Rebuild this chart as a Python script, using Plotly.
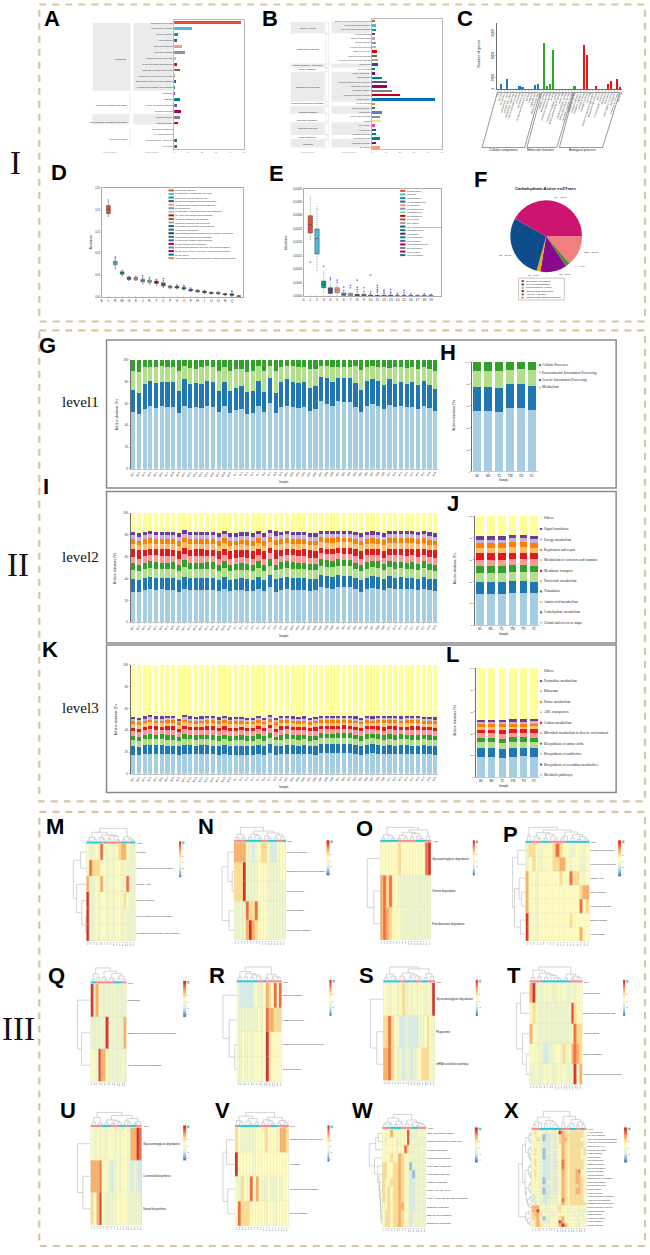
import numpy as np
import plotly.graph_objects as go

W, H = 650, 1255
SANS = "Liberation Sans"
SERIF = "Liberation Serif"
L = 0  # dendrogram leaf

# ---------------- A
A_labels = ["Global and overview maps", "Carbohydrate metabolism", "Energy metabolism", "Lipid metabolism",
            "Nucleotide metabolism", "Amino acid metabolism", "Metabolism of other amino acids",
            "Glycan biosynthesis and metabolism", "Metabolism of cofactors and vitamins",
            "Metabolism of terpenoids and polyketides", "Biosynthesis of other secondary metabolites",
            "Xenobiotics biodegradation and metabolism", "Transcription", "Translation",
            "Folding, sorting and degradation", "Replication and repair", "Membrane transport",
            "Signal transduction", "Transport and catabolism", "Cell growth and death",
            "Cellular community - prokaryotes", "Cell motility"]
A_values = [48, 12.7, 2.8, 2.1, 5.4, 7.5, 1.4, 1.7, 4.2, 0.7, 1.2, 0.5, 0.5, 4.2, 1.7, 4.7, 4.2, 2.4, 0.2, 0.2, 1.9, 1.7]
A_colors = ["#E64B35", "#4DBBD5", "#00A087", "#3C5488", "#F39B7F", "#8491B4", "#91D1C2", "#DC0000", "#7E6148",
            "#B09C85", "#3B4992", "#008B45", "#631879", "#008280", "#5F559B", "#A20056", "#808180", "#BB0021",
            "#0072B5", "#E18727", "#008B45", "#5F559B"]

# ---------------- B
B_labels = ["Neomycin, kanamycin and gentamicin biosynthesis", "Tyrosine and tryptophan biosynthesis",
            "Valine, leucine and isoleucine biosynthesis", "Pyrimidine metabolism", "Pentose phosphate pathway",
            "Galactose metabolism", "Glycolysis / Gluconeogenesis", "Citrate cycle (TCA cycle)",
            "Starch and sucrose metabolism", "Amino sugar and nucleotide sugar metabolism", "Quorum sensing",
            "Purine metabolism", "Oxidative phosphorylation", "Carbon metabolism",
            "Microbial metabolism in diverse environments", "Biosynthesis of amino acids",
            "Biosynthesis of antibiotics", "Biosynthesis of secondary metabolites", "Metabolic pathways",
            "Pyruvate metabolism", "Bacterial secretion system", "ABC transporters", "Aminoacyl-tRNA biosynthesis",
            "Ribosome", "RNA polymerase", "Mismatch repair", "Nucleotide excision repair", "Two-component system",
            "Homologous recombination", "DNA replication"]
B_values = [2.4, 3.1, 3.1, 2.4, 2.4, 3.1, 3.1, 3.5, 3.5, 4.5, 4.2, 2.4, 2.4, 7.1, 10.6, 10.6, 14.6, 20, 45.3, 2.4,
            2.4, 7.5, 5.7, 6.6, 2.4, 2.6, 3.1, 5.9, 3.1, 5.9]
B_colors = ["#E64B35", "#4DBBD5", "#00A087", "#3C5488", "#F39B7F", "#8491B4", "#91D1C2", "#DC0000", "#7E6148",
            "#B09C85", "#3B4992", "#008B45", "#631879", "#008280", "#5F559B", "#A20056", "#808180", "#BB0021",
            "#0072B5", "#E18727", "#20854E", "#7876B1", "#6F99AD", "#FFDC91", "#EE4C97", "#3B4992", "#008B45",
            "#008280", "#631879", "#F39B7F"]

# ---------------- C
C_terms = ["cell", "cell part", "cell junction", "extracellular matrix", "extracellular region",
           "extracellular region part", "macromolecular complex", "membrane", "membrane part",
           "membrane-enclosed lumen", "nucleoid", "organelle", "organelle part", "supramolecular fiber", "virion",
           "catalytic activity", "antioxidant activity", "structural molecule activity", "binding",
           "molecular transducer activity", "nucleic acid binding TF activity", "protein tag",
           "signal transducer activity", "transcription factor activity", "translation regulator activity",
           "transporter activity", "biological adhesion", "biological regulation", "cellular process",
           "metabolic process", "cell killing", "cellular component organization", "developmental process",
           "growth", "immune system process", "localization", "locomotion", "multi-organism process",
           "reproduction", "response to stimulus", "signaling"]
C_values = [300, 8400, 200, 19000, 100, 300, 600, 5400, 4200, 200, 150, 400, 7200, 8400, 100,
            83000, 4800, 9000, 70000, 300, 200, 100, 300, 200, 100, 6000,
            100, 400, 79000, 62000, 100, 300, 4800, 200, 100, 400, 9000, 15000, 200, 18000, 4200]
C_colors = ["#1F78C1"] * 15 + ["#2CA82C"] * 11 + ["#EE1111"] * 15

# ---------------- D
D_ticks = ["S", "L", "R", "M", "G", "K", "J", "E", "T", "C", "P", "V", "O", "F", "H", "I", "U", "D", "N", "Q"]
D_legend = ["[S] Function unknown", "[L] Replication, recombination and repair", "[R] General function prediction only",
            "[M] Cell wall/membrane/envelope biogenesis", "[G] Carbohydrate transport and metabolism",
            "[K] Transcription", "[J] Translation, ribosomal structure and biogenesis",
            "[E] Amino acid transport and metabolism", "[T] Signal transduction mechanisms",
            "[C] Energy production and conversion", "[P] Inorganic ion transport and metabolism",
            "[V] Defense mechanisms", "[O] Posttranslational modification, protein turnover, chaperones",
            "[F] Nucleotide transport and metabolism", "[H] Coenzyme transport and metabolism",
            "[I] Lipid transport and metabolism", "[U] Intracellular trafficking, secretion, and vesicular transport",
            "[D] Cell cycle control, cell division, chromosome partitioning", "[N] Cell motility",
            "[Q] Secondary metabolites biosynthesis, transport and catabolism"]
D_colors = ["#E64B35", "#4DBBD5", "#00A087", "#3C5488", "#F39B7F", "#8491B4", "#91D1C2", "#DC0000", "#7E6148",
            "#B09C85", "#3B4992", "#008B45", "#631879", "#008280", "#5F559B", "#A20056", "#808180", "#BB0021",
            "#0072B5", "#E18727"]
D_q3 = [.2103, .0823, .0579, .0457, .045, .0411, .0389, .0366, .0328, .0251, .0244, .0221, .0175, .0152, .0137, .0107, .0103, .0076, .0076, .003]
D_med = [.2004, .0785, .0556, .0434, .0427, .0381, .0366, .0343, .029, .0236, .0229, .0206, .016, .0137, .0122, .0095, .0091, .0065, .0057, .0023]
D_q1 = [.1913, .0739, .0526, .0404, .0396, .0351, .0335, .0312, .0251, .0213, .0206, .0183, .0145, .0122, .0099, .0084, .0076, .0053, .0038, .0011]
D_hi = [.2233, .0899, .0617, .048, .048, .0457, .0434, .0404, .0381, .0274, .0267, .0251, .0198, .0175, .016, .0122, .0122, .0091, .013, .0038]
D_lo = [.1852, .0648, .048, .0381, .0381, .0305, .0297, .0274, .0213, .0198, .0183, .016, .013, .0107, .0076, .0069, .0061, .0038, .0015, 0]
D_out_x = [2, 5, 6, 7, 8, 9, 11, 12, 13, 19]
D_out_y = [.0915, .0442, .0488, .0442, .0404, .0427, .0274, .0267, .0205, .0135]

# ---------------- E
E_ticks = [str(i) for i in range(20)]
E_legend = ["[1] Bacteroides", "[2] Blautia", "[3] Escherichia", "[4] Faecalibacterium", "[5] Roseburia",
            "[6] Ruminococcus", "[7] Eubacterium", "[8] Lactobacillus", "[9] Prevotella", "[10] Alistipes",
            "[11] Acetobacterium and Dorea group", "[12] Coprococcus", "[13] Dialister",
            "[14] Megamonas", "[15] Collinsella", "[16] Streptococcus-like", "[17] Oscillibacter", "[18] Sutterella",
            "[19] Akkermansia"]
E_q3 = [.0002995, .00025, .0000557, .0000309, .0000309, .0000111, .0000099, .0000062, .0000062, .0000037, .0000025, .0000025, .0000025, .0000012, .0000012, .0000012, .0000012, .0000012, .0000012]
E_med = [.000266, .000214, .0000433, .000021, .0000223, .0000062, .000005, .0000037, .0000037, .0000019, .0000012, .0000012, .0000012, .0000006, .0000006, .0000006, .0000006, .0000006, .0000006]
E_q1 = [.000235, .000157, .0000309, .0000099, .0000124, .0000025, .0000012, .0000012, .0000012, .0000002, .0000002, .0000002, .0000002, .0000001, .0000001, .0000001, .0000001, .0000001, .0000001]
E_hi = [.000374, .000335, .0000953, .000047, .0000433, .0000186, .000016, .000011, .000012, .0000087, .000005, .000005, .000005, .000003, .000003, .000003, .000002, .000003, .000003]
E_lo = [.000204, .000089, .0000124, .0000025, .0000025, 0, 0, 0, 0, 0, 0, 0, 0, 0, 0, 0, 0, 0, 0]
E_out_x = [1, 3, 4, 4, 5, 5, 6, 6, 7, 7, 8, 8, 8, 8, 9, 9, 10, 10, 10, 11, 11, 11, 11, 11, 12, 12, 12, 13, 13, 13, 14, 14, 15, 15, 15, 16, 16, 17, 18, 18, 19, 19]
E_out_y = [.000127, .000111, .000068, .0000606, .0000594, .0000495, .0000334, .000021, .0000408, .0000309, .0000594, .0000334, .0000248, .000016, .0000309, .000016, .000078, .000016, .0000087, .0000396, .0000309, .0000248, .0000186, .0000124, .0000223, .000016, .0000099, .0000248, .0000149, .0000087, .0000099, .000005, .000021, .0000124, .000005, .0000087, .000004, .000004, .0000087, .000004, .0000062, .0000025]

# ---------------- F
F_labels = ["CBM = 13.8%", "AA = 1.9%", "CE = 11.9%", "PL = 1.7%", "GT = 26.7%", "GH = 43.9%"]
F_values = [13.8, 1.9, 11.9, 1.7, 28.8, 41.9]
F_colors = ["#F08080", "#4E8B2A", "#8B0A8B", "#E8A818", "#0F4C8A", "#CC1470"]
F_legend = ["Glycoside Hydrolases", "GlycosylTransferases", "Polysaccharide Lyases", "Carbohydrate Esterases",
            "Auxiliary Activities", "Carbohydrate-Binding Modules"]

# ---------------- G-L
GROUPS = ["BC", "MC", "TL", "TM", "TH", "PC"]
SAMPLES = [f"{g}{i}" for g in GROUPS for i in range(1, 10)]
PAIRED = ["#A6CEE3", "#1F78B4", "#B2DF8A", "#33A02C", "#FB9A99", "#E31A1C", "#FDBF6F", "#FF7F00", "#CAB2D6", "#6A3D9A", "#FFFF99"]
L1_colors = ["#A6CEE3", "#1F78B4", "#B2DF8A", "#33A02C"]
L1_names = ["Metabolism", "Genetic Information Processing", "Environmental Information Processing", "Cellular Processes"]
L1_metab = [52.5, 50.5, 55, 58, 55.5, 57.5, 56.5, 56.5, 51, 58, 56, 56.5, 56, 57.5, 57, 52, 58, 51.5, 54, 54.5, 50.5, 51.5, 58, 52, 60, 51, 56.5, 58, 56.5, 56, 56.5, 53.5, 55, 62, 59.5, 58, 62.5, 61, 61, 57, 52.5, 57.5, 59.5, 57.5, 55, 59, 57, 57.5, 56.5, 57, 55, 58, 55.5, 53]
L1_genet = [20, 19, 23, 23, 23, 22, 23.5, 23, 20, 24, 21.5, 22, 22, 23.5, 23, 19.5, 22, 20, 20.5, 21.5, 20, 20, 23, 18.5, 23.5, 19, 23.5, 24, 23, 22.5, 23, 20.5, 21, 22.5, 23.5, 21.5, 21, 22, 22.5, 22, 20, 23.5, 22.5, 23.5, 21.5, 23.5, 21, 22.5, 21.5, 22.5, 22, 23, 21.5, 20.5]
L1_envir = [17.5, 19, 15, 12.5, 15, 15, 13.5, 14, 18.5, 12, 15, 13.5, 15, 13, 13.5, 18.5, 13.5, 18, 17, 15.5, 18, 18, 13.5, 19, 10.5, 19.5, 13, 12.5, 14.5, 15, 14, 17.5, 16, 9.5, 11, 14, 10, 10.5, 10, 15.5, 18, 12.5, 12, 12.5, 17, 10, 15, 13, 14.5, 13.5, 15, 12.5, 15, 16.5]
L1_cellu = [10, 11.5, 7, 6.5, 6.5, 5.5, 6.5, 6.5, 10.5, 6, 7.5, 8, 7, 6, 6.5, 10, 6.5, 10.5, 8.5, 8.5, 11.5, 10.5, 5.5, 10.5, 6, 10.5, 7, 5.5, 6, 6.5, 6.5, 8.5, 8, 6, 6, 6.5, 6.5, 6.5, 6.5, 5.5, 9.5, 6.5, 6, 6.5, 6.5, 7.5, 7, 7, 7.5, 7, 8, 6.5, 8, 10]
H_series = [[55, 55, 54.5, 58, 58, 56], [22, 22, 22, 21.5, 22, 22], [15, 15, 15.5, 13.5, 13.5, 14.5], [8, 8, 8, 7, 6.5, 7.5]]

L2_names = ["Global and overview maps", "Carbohydrate metabolism", "Amino acid metabolism", "Translation",
            "Nucleotide metabolism", "Membrane transport", "Metabolism of cofactors and vitamins",
            "Replication and repair", "Energy metabolism", "Signal translation", "Others"]
L2_s0 = [28, 27.5, 29.5, 31, 30, 30.5, 30, 30, 27.5, 31, 30, 30, 29.5, 30, 30, 28, 30.5, 28, 29, 29, 27.5, 28, 31, 28, 32, 27.5, 30, 31, 30, 30, 30, 28.5, 29, 33, 31.5, 31, 33, 32.5, 32.5, 30.5, 28, 30.5, 31.5, 31, 29.5, 31, 30.5, 31, 30.5, 30.5, 29.5, 31, 29.5, 28.5]
L2_s1 = [12, 11.5, 11, 11, 11, 10.5, 11, 11, 11, 11, 10.5, 11, 11, 11, 11, 10.5, 11, 10.5, 10.5, 11, 11, 10.5, 11, 10.5, 11, 11, 11, 11, 10.5, 11, 11, 11, 10.5, 11, 11, 11, 10.5, 10.5, 10.5, 10.5, 11, 10.5, 11, 10.5, 10.5, 11, 10.5, 10.5, 10.5, 10.5, 10.5, 10.5, 10.5, 10.5]
L2_s2 = [8, 8, 8, 8.5, 8, 8, 8, 8, 8, 8.5, 8, 8, 8.5, 8, 8, 8, 8.5, 8, 8, 8, 8, 8, 8.5, 8, 8.5, 8, 8, 8.5, 8.5, 8, 8, 8, 8, 8.5, 8.5, 8.5, 8.5, 8.5, 8.5, 8, 8, 8.5, 8.5, 8.5, 8, 8.5, 8.5, 8.5, 8.5, 8.5, 8, 8.5, 8, 8]
L2_s3 = [6, 5.5, 6, 6.5, 6.5, 6, 6, 6.5, 5, 6.5, 6, 6, 6, 6, 6, 5, 6, 5.5, 5.5, 6, 5, 5.5, 6.5, 5.5, 6.5, 5, 6, 6.5, 6.5, 5.5, 6, 5.5, 5.5, 6, 6, 6, 6.5, 6, 6, 6, 5.5, 6, 6, 6, 5.5, 6, 6, 6, 5.5, 6, 6, 6, 6, 5.5]
L2_s4 = [5.5, 5.5, 6, 5.5, 6, 6, 6, 5.5, 5.5, 6, 6, 6, 6, 6, 6, 5.5, 6, 5.5, 5.5, 5.5, 5.5, 5.5, 6, 5.5, 5.5, 5.5, 6, 6, 6, 6, 6, 5.5, 5.5, 5.5, 5.5, 6, 5.5, 5.5, 5.5, 6, 6, 6, 5.5, 5.5, 5.5, 5.5, 6, 6, 6, 6, 6, 6, 6, 6]
L2_s5 = [7.5, 8.5, 6, 5.5, 5.5, 6, 6, 5.5, 8, 5, 6, 6, 6, 5.5, 5.5, 8, 5.5, 7.5, 7, 6.5, 7.5, 7.5, 5.5, 7.5, 4.5, 8, 5.5, 5.5, 5.5, 6, 6, 7, 6.5, 4.5, 5, 5, 4.5, 5, 5, 6, 7.5, 5.5, 5, 5.5, 6.5, 5, 6, 6, 6.5, 6, 7, 5.5, 6.5, 7]
L2_s6 = [5, 4.5, 5.5, 5.5, 5.5, 5.5, 5.5, 5.5, 4.5, 5.5, 5.5, 5.5, 5.5, 5.5, 5.5, 4.5, 5.5, 4.5, 5, 5, 4.5, 4.5, 5.5, 4.5, 5.5, 4.5, 5.5, 5.5, 5.5, 5.5, 5.5, 5, 5, 5.5, 5.5, 5.5, 5.5, 5.5, 5.5, 5.5, 5, 5.5, 5.5, 5.5, 5, 5.5, 5.5, 5.5, 5.5, 5.5, 5, 5.5, 5, 5]
L2_s7 = [4, 3.5, 4.5, 4.5, 4.5, 4.5, 4.5, 4.5, 4, 4.5, 4.5, 4.5, 4.5, 4.5, 4.5, 4, 4.5, 4, 4, 4, 4, 4, 4.5, 4, 4.5, 4, 4.5, 4.5, 4.5, 4.5, 4.5, 4, 4, 4.5, 4.5, 4.5, 4.5, 4.5, 4.5, 4.5, 4, 4.5, 4.5, 4.5, 4.5, 4.5, 4.5, 4.5, 4.5, 4.5, 4.5, 4.5, 4.5, 4]
L2_s8 = [3.5, 3.5, 3.5, 3.5, 3.5, 3.5, 3.5, 3.5, 3.5, 3.5, 3.5, 3.5, 3.5, 3.5, 3.5, 3.5, 3.5, 3.5, 3.5, 3.5, 3.5, 3.5, 3.5, 3.5, 3.5, 3.5, 3.5, 3.5, 3.5, 3.5, 3.5, 3.5, 3.5, 3.5, 3.5, 3.5, 3.5, 3.5, 3.5, 3.5, 3.5, 3.5, 3.5, 3.5, 3.5, 3.5, 3.5, 3.5, 3.5, 3.5, 3.5, 3.5, 3.5, 3.5]
L2_s9 = [3.5, 4, 3, 3, 3, 3, 3, 3, 4, 3, 3, 3, 3, 3, 3, 4, 3, 4, 3.5, 3.5, 4, 4, 3, 4, 3, 4.5, 3, 3, 3, 3, 3, 3.5, 3.5, 2.5, 2.5, 3, 2.5, 2.5, 2.5, 3, 4, 3, 3, 3, 3.5, 3, 3, 3, 3, 3, 3.5, 3, 3.5, 3.5]
L2_s10 = [17, 18, 17, 16.5, 17, 17, 17, 17, 18, 16, 17, 17, 17, 17, 17, 18, 16.5, 18, 18, 17.5, 16.5, 18, 17, 18, 15.5, 16.5, 17, 16.5, 17, 17, 17, 18, 18, 16.5, 16.5, 16.5, 16.5, 16.5, 16.5, 17, 18, 17, 17, 17, 18, 16.5, 16.5, 16.5, 16.5, 16.5, 17, 16.5, 17.5, 18]
J_series = [[29, 29, 28.5, 30, 30, 29.5], [11, 11, 11, 10.5, 10.5, 10.5], [8, 8, 8.5, 8.5, 8.5, 8.5], [6, 6, 6, 6, 6, 6],
            [6, 6, 6, 6, 6, 6], [6, 6, 6, 5.5, 5.5, 5.5], [5, 5, 5, 5.5, 5.5, 5], [4, 4, 4, 4, 4, 4.5],
            [3.5, 3.5, 3.5, 3.5, 3.5, 3.5], [3.5, 3.5, 3.5, 3, 3, 3], [18, 18, 18, 17.5, 17.5, 18]]

L3_names = ["Metabolic pathways", "Biosynthesis of secondary metabolites", "Biosynthesis of antibiotics",
            "Biosynthesis of amino acids", "Microbial metabolism in diverse environment", "Carbon metabolism",
            "ABC transporters", "Purine metabolism", "Ribosome", "Pyrimidine metabolism", "Others"]
L3_s0 = [17, 16.5, 18, 18.5, 18, 18, 18, 18, 16.5, 18.5, 18, 18, 18, 18, 18, 17, 18.5, 17, 17.5, 17.5, 17, 17, 18.5, 17, 19, 17, 18, 18.5, 18, 18, 18, 17.5, 17.5, 19, 19, 19, 19, 19, 19, 18, 17, 18.5, 19, 18.5, 18, 18.5, 18, 18, 18, 18, 18, 18, 18, 17]
L3_s1 = [8, 8, 8, 8.5, 8, 8, 8, 8, 8, 8, 8, 8, 8, 8.5, 8, 8, 8, 8, 7.5, 8, 8, 8, 8, 8, 8, 8, 8, 8, 8, 8, 8, 7.5, 8, 8.5, 8, 8, 8.5, 8.5, 8, 8, 8, 8, 8, 8, 8, 8, 8, 8, 8, 8, 8, 8, 8, 8.5]
L3_s2 = [5.5, 5, 5.5, 5.5, 5.5, 5.5, 5.5, 5.5, 5, 5.5, 5.5, 5.5, 5.5, 5.5, 5.5, 5, 5.5, 5, 5.5, 5.5, 5, 5, 5.5, 5, 5.5, 5, 5.5, 5.5, 5.5, 5.5, 5.5, 5, 5.5, 5.5, 5.5, 5.5, 5.5, 5.5, 5.5, 5.5, 5, 5.5, 5.5, 5.5, 5.5, 5.5, 5.5, 5.5, 5.5, 5.5, 5.5, 5.5, 5.5, 5]
L3_s3 = [4, 4, 4, 4.5, 4, 4.5, 4.5, 4.5, 3.5, 4.5, 4, 4, 4, 4, 4.5, 4, 4, 4, 4, 4, 4, 4, 4.5, 4, 4.5, 3.5, 4, 4.5, 4, 4, 4, 4, 4, 4, 4, 4, 4, 4.5, 4.5, 4, 4, 4.5, 4, 4.5, 4, 4.5, 4.5, 4.5, 4, 4.5, 4, 4, 4, 4]
L3_s4 = [4.5, 4, 4.5, 4.5, 4.5, 4, 4.5, 4.5, 4, 4.5, 4.5, 4.5, 4.5, 4.5, 4.5, 4.5, 4.5, 4.5, 4.5, 4.5, 4.5, 4.5, 4.5, 4.5, 4.5, 4, 4.5, 4.5, 4.5, 4.5, 4.5, 4.5, 4.5, 4, 4, 4, 4, 4, 4, 4.5, 4.5, 4.5, 4, 4, 4, 4.5, 4.5, 4, 4.5, 4.5, 4.5, 4, 4.5, 4.5]
L3_s5 = [3, 3, 3, 3, 3.5, 3, 3, 3, 3, 3.5, 3, 3, 3, 3, 3, 3, 3, 3, 3, 3, 3, 3, 3, 3, 3.5, 3, 3.5, 3, 3, 3, 3, 3, 3, 3, 3, 3, 3, 3, 3, 3, 3, 3, 3, 3, 3.5, 3, 3, 3, 3, 3, 3.5, 3, 3, 3]
L3_s6 = [3.5, 3.5, 3, 3, 2.5, 3, 3, 3, 3.5, 3, 3, 3, 3, 3, 3, 3.5, 3, 3.5, 3.5, 3, 3.5, 3.5, 3, 3.5, 2.5, 3.5, 3, 2.5, 3, 3, 3, 3, 3.5, 2.5, 2.5, 3, 2.5, 2.5, 2.5, 3, 3.5, 3, 2.5, 3, 3.5, 2.5, 3, 3, 3, 3, 3, 3, 3, 3.5]
L3_s7 = [2.5, 2.5, 2.5, 2.5, 2.5, 2.5, 2.5, 2.5, 2.5, 2.5, 2.5, 2.5, 2.5, 2.5, 2.5, 2.5, 2.5, 2.5, 2.5, 2.5, 2.5, 2.5, 2.5, 2.5, 2.5, 2.5, 2.5, 2.5, 2.5, 2.5, 2.5, 2.5, 2.5, 2.5, 2.5, 2.5, 2.5, 2.5, 2.5, 2.5, 2.5, 2.5, 2.5, 2.5, 2.5, 2.5, 2.5, 2.5, 2.5, 2.5, 2.5, 2.5, 2.5, 2.5]
L3_s8 = [1.5, 1.5, 2, 2, 2, 2, 2, 2, 1.5, 2, 2, 2, 2, 2, 2, 1.5, 2, 1.5, 1.5, 2, 1.5, 1.5, 2, 1.5, 2, 2, 2, 2, 2, 2, 2, 1.5, 1.5, 2, 2, 2, 2, 2, 2, 2, 1.5, 2, 2, 2, 2, 2, 2, 2, 2, 2, 2, 2, 2, 1.5]
L3_s9 = [2, 2, 2, 2, 2, 2, 2, 2, 2, 2, 2, 2, 2, 2, 2, 2, 2, 2, 2, 2, 2, 2, 2, 2, 2, 2, 2, 2, 2, 2, 2, 2, 2, 2, 2, 2, 2, 2, 2, 2, 2, 2, 2, 2, 2, 2, 2, 2, 2, 2, 2, 2, 2, 2]
L3_s10 = [47.5, 48, 47, 46.5, 47, 47, 47, 47, 48, 46.5, 47, 47.5, 47, 47, 47, 47.5, 47, 47.5, 47.5, 47, 48, 48, 46.5, 48, 45.5, 47.5, 47, 46.5, 47, 47.5, 47, 48, 47.5, 46.5, 46.5, 46.5, 46.5, 46.5, 46.5, 47, 48, 47, 47, 47, 47, 46.5, 47, 47, 46.5, 47, 47, 47, 47.5, 48]
Lp_series = [[18.5, 18.5, 18, 18.5, 19, 18.5], [8, 8, 8, 8, 8, 8], [5.5, 5.5, 5.5, 5.5, 5.5, 5.5], [4, 4, 4, 4.5, 4, 4.5],
             [4.5, 4.5, 4.5, 4.5, 4.5, 4.5], [3, 3, 3, 3, 3, 3], [3, 3, 3, 2.5, 2.5, 3], [2.5, 2.5, 2.5, 2.5, 2.5, 2.5],
             [2, 2, 2, 2, 2, 2], [2, 2, 2, 2, 2, 2], [47.5, 47.5, 47.5, 47, 47, 47]]

# ---------------- heatmaps (colour level: -3 blue ... 1 pale yellow ... 5 red)
M_rows = ["Proteasome", "Sesquiterpenoid and triterpenoid biosynthesis", "Mitophagy - yeast", "Bisphenol degradation",
          "Polycyclic aromatic hydrocarbon degradation", "Glycosaminoglycan biosynthesis - CS/DS, chondroitin"]
M_z = [[1, 0, 0, 1, 0, 4, 1, 0, 1, 0, 1, 2, 3, 3, 1, 0, 0], [1, 4, 2, 2, 2, 1, 1, 0, 1, 0, 1, 1, 0, 1, 0, 0, 0],
       [3, 0, 0, 1, 0, 3, 1, 0, 1, 0, 1, 1, 0, 1, 4, 0, 0], [5, 0, 0, 1, 0, 1, 1, 0, 1, 0, 1, 1, 0, 2, 1, 0, 0],
       [5, 0, 0, 1, 0, 1, 1, 0, 1, 0, 1, 1, 0, 1, 0, 0, 0], [5, 0, 0, 1, 0, 1, 1, 0, 1, 0, 1, 1, 0, 1, 0, 0, 0]]
M_group = [0, 0, 0, 0, 0, 1, 0, 1, 1, 1, 1, 1, 0, 0, 1, 0, 0]
M_col = [1, [.7, [.3, [.1, L, L], [.15, L, L]], [.5, [.3, L, [.15, L, L]], [.45, [.2, L, L], [.4, L, [.12, L, L]]]]], [.35, [.12, L, L], [.2, L, [.1, L, L]]]]
M_row = [1, [.45, L, L], [.75, L, [.35, L, [.05, L, L]]]]

N_rows = ["Carotenoid biosynthesis", "Sesquiterpenoid and triterpenoid biosynthesis", "Steroid biosynthesis",
          "Toluene degradation", "Fluorobenzoate degradation"]
N_z = [[3, 3, 3, 3, 0, 0, -1, 0, 1, 2, 2, 0, -1, -1, 0, 1, 1], [2, 2, 2, 5, 0, 0, 0, 0, 1, 1, 1, 0, 0, 0, 0, 1, 1],
       [2, 2, 2, 5, 0, 0, 0, 0, 1, 1, 1, 0, 0, 0, 0, 0, 0], [0, 0, 0, 0, 4, 2, 2, 4, 1, 1, 1, 0, 0, 0, 0, 0, 0],
       [0, 0, 0, 0, 3, 5, 3, 2, 1, 1, 1, 0, 0, 0, 0, 0, 0]]
N_group = [1, 1, 1, 1, 0, 0, 0, 0, 0, 1, 1, 0, 0, 0, 1, 1, 0]
N_col = [1, [.45, [.2, L, L], [.15, L, L]], [.7, [.45, [.2, L, L], [.35, L, [.15, L, L]]], [.55, [.3, L, [.12, L, L]], [.4, [.15, L, L], [.25, L, L]]]]]
N_row = [1, [.5, L, [.15, L, L]], [.4, L, L]]

O_rows = ["Glycosaminoglycan degradation", "Toluene degradation", "Fluorobenzoate degradation"]
O_z = [[1, 1, 1, 1, 1, 1, 2, 1, 1, 1, 1, 1, 1, 1, 1, 4, 5], [3, 4, 2, 4, 1, 1, 0, 0, 0, 0, 0, 0, 0, 0, 0, 0, 0],
       [3, 4, 3, 2, 1, 1, 1, 0, 0, 0, 0, 0, 0, 0, 0, 0, 0]]
O_group = [0, 0, 0, 0, 0, 0, 1, 1, 1, 1, 1, 1, 0, 0, 0, 1, 1]
O_col = [1, [.4, [.15, L, L], [.3, L, [.12, L, L]]], [.8, [.6, [.35, [.1, L, L], [.2, L, L]], [.5, [.2, L, L], [.3, L, [.1, L, L]]]], [.3, L, L]]]
O_row = [1, L, [.5, L, L]]

P_rows = ["Glycosaminoglycan degradation", "Flavone and flavonol biosynthesis", "Mitophagy - yeast", "Toluene degradation",
          "Fluorobenzoate degradation", "Bisphenol degradation", "Xylene degradation"]
P_z = [[0, 2, 2, 1, 0, 1, 1, 1, 2, 4, 2, 1, 1, 0, 0, 1, 1, 0, 1], [0, 1, 2, 1, 0, 1, 1, 1, 2, 2, 3, 3, 1, 0, 1, 1, 0, 0, 1],
       [3, 1, 1, 0, 1, 1, 1, 1, 1, 1, 2, 1, 1, 4, 2, 2, 1, 0, 1], [3, 1, 1, 0, 1, 1, 1, 1, 1, 1, 1, 1, 1, 1, 1, 1, 2, 3, 3],
       [3, 1, 1, 0, 1, 1, 1, 1, 1, 1, 1, 1, 1, 1, 1, 1, 4, 1, 2], [5, 1, 1, 0, 1, 1, 1, 1, 1, 1, 1, 1, 1, 2, 1, 1, 1, 1, 1],
       [5, 1, 1, 0, 1, 1, 1, 1, 1, 1, 1, 1, 1, 1, 1, 1, 3, 1, 1]]
P_group = [0, 0, 1, 1, 1, 0, 0, 1, 1, 1, 1, 1, 0, 0, 0, 0, 0, 0, 0]
P_col = [1, [.35, L, L], [.8, [.6, [.3, L, [.15, L, L]], [.5, [.2, L, L], [.35, L, [.15, L, L]]]], [.65, [.3, [.15, L, L], L], [.45, [.2, L, L], [.3, [.1, L, L], [.15, L, L]]]]]]
P_row = [1, [.6, L, L], [.85, [.5, L, [.3, L, L]], [.4, L, L]]]

Q_rows = ["Proteasome", "Sesquiterpenoid and triterpenoid biosynthesis", "Glycosaminoglycan degradation"]
Q_z = [[5, 0, 3, 0, 0, 0, 0, 0, 0, 0, 0, 0, 0, 0], [0, 0, 0, 0, 0, 0, 5, 0, 0, 0, 0, 0, 0, 3],
       [1, 1, 0, 5, 3, 3, 1, 0, 0, 0, 0, 0, 1, 0]]
Q_group = [0, 0, 1, 1, 1, 1, 1, 1, 1, 0, 0, 0, 1, 1]
Q_col = [1, [.55, [.15, L, L], [.3, L, L]], [.75, [.3, L, [.1, L, L]], [.6, [.25, L, [.1, L, L]], [.4, [.2, L, L], [.15, L, L]]]]]
Q_row = [1, L, [.7, L, L]]

R_rows = ["Benzoate degradation", "Carotenoid biosynthesis", "Sesquiterpenoid and triterpenoid biosynthesis", "Steroid biosynthesis"]
R_z = [[0, -1, -1, -1, -1, -1, 0, 1, 0, 0, 1, 3, 2, 1, 4, 1, 4], [0, 0, 0, 0, 0, 0, 0, 0, 1, 0, 1, 4, 3, 3, 2, 2, 2],
       [0, 0, 1, 0, 1, 0, 1, 1, 1, 0, 1, 5, 2, 1, 1, 1, 1], [0, 0, 1, 0, 1, 0, 1, 1, 1, 0, 1, 5, 2, 1, 1, 1, 1]]
R_group = [0, 0, 0, 0, 0, 0, 0, 0, 1, 1, 0, 1, 1, 1, 1, 1, 1]
R_col = [1, [.65, [.2, L, L], [.5, [.25, L, L], [.4, [.2, L, L], [.3, L, [.1, L, L]]]]], [.45, [.15, L, L], [.3, [.1, L, L], [.2, L, L]]]]
R_row = [1, L, [.55, L, [.15, L, L]]]

S_rows = ["Glycosaminoglycan degradation", "Phagosome", "mRNA surveillance pathway"]
S_z = [[1, 1, 0, 1, 1, 0, 1, 2, 0, 1, 0, 1, 0, 1, 1, 0, 1, 0, 5], [2, 2, 4, 2, 1, 1, -1, -1, 0, -1, -1, -1, -1, 0, 0, 1, 2, 1, 0],
       [3, 3, 4, 2, 1, 0, 0, -1, 0, 0, -1, 0, 0, 1, 2, 2, 2, 1, 0]]
S_group = [0, 0, 0, 0, 0, 0, 1, 1, 0, 0, 1, 0, 1, 1, 0, 0, 1, 1, 1]
S_col = [1, [.45, [.2, L, L], [.3, L, [.1, L, L]]], [.85, [.55, [.3, L, [.1, L, L]], [.4, [.2, L, L], [.3, L, [.15, L, L]]]], [.5, [.2, L, L], [.3, L, L]]]]
S_row = [1, L, [.5, L, L]]

T_rows = ["Steroid biosynthesis", "Biosynthesis of unsaturated fatty acids", "Cutin biosynthesis", "Bisphenol degradation",
          "Sesquiterpenoid and triterpenoid biosynthesis"]
T_z = [[3, 5, 1, 0, 0, 1, 0, 1, 0, 0, 1, 0, 1, 0, 0, 1, 0, 1, 1], [1, 2, 1, 0, 0, 0, 0, 0, 0, 0, 0, 0, 0, 0, 0, 5, 2, 1, 1],
       [3, 1, 1, 0, 0, 0, 0, 0, 0, 0, 0, 0, 0, 0, 0, 1, 4, 2, 2], [1, 1, 1, 0, 0, -1, -1, 0, 0, 1, 1, 0, 2, 0, 1, 3, 4, 3, 2],
       [0, 0, 1, 0, 0, 1, 0, 1, 0, 0, 1, 0, 1, 0, 0, 1, 5, 1, 3]]
T_group = [1, 1, 1, 1, 0, 0, 0, 0, 0, 0, 0, 0, 0, 0, 1, 1, 1, 1, 1]
T_col = [1, [.75, [.2, L, L], [.55, [.25, L, L], [.45, [.2, L, L], [.35, L, [.2, L, [.1, L, L]]]]]], [.45, [.15, L, L], [.3, [.12, L, L], [.2, L, L]]]]
T_row = [1, [.7, L, L], [.55, L, [.25, L, L]]]

U_rows = ["Glycosaminoglycan degradation", "Carotenoid biosynthesis", "Steroid biosynthesis"]
U_z = [[1, 0, 1, 0, 1, 0, 1, 1, 0, 1, 0, 1, 1, 0, 3, 3, 5, 4], [3, 3, 3, 4, 1, 1, 0, -1, 0, 1, 0, 1, 1, 0, -1, 0, -1, -1],
       [2, 1, 3, 5, 1, 0, 0, 0, 0, 1, 1, 1, 1, 0, 0, 0, 0, 0]]
U_group = [1, 1, 1, 1, 0, 0, 0, 1, 1, 1, 0, 0, 1, 1, 0, 0, 1, 1]
U_col = [1, [.6, [.2, L, L], [.15, L, L]], [.75, [.4, [.15, L, L], [.3, [.1, L, L], [.2, L, L]]], [.5, [.3, L, [.15, L, L]], [.25, [.1, L, L], L]]]]
U_row = [1, L, [.6, L, L]]

V_rows = ["Phosphatidylinositol signaling system", "Proteasome", "Glycosaminoglycan degradation", "Steroid degradation"]
V_z = [[2, 1, 0, 0, 0, 0, 0, 1, 1, 1, 2, 1, 1, 1, 0, 3, 3, 2], [5, 1, 1, 1, 1, 1, 0, 1, 1, 1, 1, 1, 1, 1, 1, 1, 1, 1],
       [1, 0, 2, 1, 0, 4, 1, 3, 1, 0, 0, 1, 0, 0, 1, 0, 1, 1], [1, 4, 2, 2, 2, 1, 1, 1, 1, 1, 0, 1, 1, 0, 1, 1, 1, 1]]
V_group = [1, 0, 0, 0, 0, 0, 0, 0, 1, 1, 1, 1, 0, 0, 1, 1, 1, 1]
V_col = [1, [.7, [.35, L, [.2, L, L]], [.5, [.3, L, [.1, L, L]], [.2, L, L]]], [.6, [.4, [.15, L, L], [.3, L, [.1, L, L]]], [.35, [.15, L, L], [.2, L, L]]]]
V_row = [1, [.7, L, L], [.6, L, L]]

W_rows = ["mRNA surveillance pathway", "Ribosome biogenesis in eukaryotes", "Geraniol degradation", "Carotenoid biosynthesis",
          "beta-Alanine metabolism", "Tryptophan metabolism", "Histidine metabolism", "Citrate cycle (TCA cycle)",
          "Valine, leucine and isoleucine degradation", "Butanoate metabolism", "Other glycan degradation",
          "Sphingolipid metabolism"]
W_z = [[1, 1, 1, 3, 1, 1, 1, 1, 1, 5, 0, 0, 0, 1, 0, 1], [1, 0, 1, 1, 1, 0, 0, 1, 1, 5, 0, 0, 0, 0, 0, 0],
       [1, 1, 1, 1, 1, 0, 1, 1, 4, 2, 0, 0, 0, 0, 1, 0], [1, 1, 1, 2, 1, 1, 3, 2, 1, 1, 0, 0, 0, 0, 0, 0],
       [2, 2, 1, 1, 2, 2, 3, 2, 1, 1, -2, 0, 0, 0, 0, 0], [2, 2, 1, 1, 2, 2, 3, 2, 1, 1, -1, -2, 0, 0, 0, 0],
       [2, 1, 1, 2, 2, 2, 3, 2, 1, 1, -1, -1, 0, 0, 0, 0], [2, 1, 2, 1, 2, 2, 3, 2, 1, 1, -1, -1, 0, 0, 0, 0],
       [2, 1, 2, 1, 2, 2, 3, 2, 1, 1, -1, -1, 0, 0, 0, 0], [1, 1, 2, 1, 2, 2, 3, 3, 1, 1, -1, -1, 0, 0, 0, 0],
       [1, 2, 2, 1, 2, 2, 3, 2, 1, 1, -1, 0, 0, 0, 0, 0], [1, 2, 2, 1, 2, 2, 3, 2, 1, 1, -1, 0, 0, 0, 0, 0]]
W_group = [1, 1, 1, 0, 0, 0, 0, 1, 1, 1, 1, 0, 0, 1, 1, 1]
W_col = [1, [.7, [.35, [.2, L, L], [.25, L, L]], [.45, [.2, L, L], [.3, L, L]]], [.55, [.25, L, L], [.35, [.15, L, L], [.25, [.1, L, L], [.15, L, L]]]]]
W_row = [1, [.5, [.3, L, L], L], [.6, L, [.35, L, [.25, L, [.2, L, [.15, L, [.12, L, [.1, L, [.08, L, L]]]]]]]]]

X_rows = ["D-Alanine metabolism", "beta-Alanine metabolism", "Valine, leucine and isoleucine degradation",
          "Glycine, serine and threonine metabolism", "Citrate cycle (TCA cycle)", "Monobactam biosynthesis",
          "Histidine metabolism", "Purine metabolism", "Fatty acid biosynthesis", "Sphingolipid metabolism",
          "Other glycan degradation", "Butanoate metabolism", "Vitamin B6 metabolism", "Pantothenate and CoA biosynthesis",
          "Carbon fixation pathways", "One carbon pool by folate", "Metabolic pathways", "Pyruvate metabolism",
          "Cysteine and methionine metabolism", "Arginine and proline metabolism", "Phosphatidylinositol signaling system",
          "Ribosome biogenesis in eukaryotes", "Carotenoid biosynthesis", "Steroid biosynthesis",
          "Ubiquinone biosynthesis", "Geraniol degradation", "Galactose metabolism"]
X_z = [[1, 2, 1, 1, 0, -1, 0, 0, 0, 1, 5, 3, 2, 1, 2, 2, 2, 2, 2, 1], [1, 1, 1, 0, -2, -1, -1, 0, -1, 1, 2, 3, 2, 1, 2, 2, 2, 2, 2, 1],
       [1, 1, 2, 0, -2, -1, -1, 0, -1, 1, 2, 3, 3, 1, 2, 2, 2, 2, 1, 1], [1, 1, 1, 0, -1, -1, -1, 0, 0, 1, 2, 3, 2, 1, 2, 2, 2, 2, 2, 1],
       [1, 1, 1, 0, -1, -1, -1, 0, -1, 0, 1, 3, 2, 1, 2, 2, 2, 2, 2, 1], [1, 2, 1, 0, -2, -1, -1, 0, 0, 1, 1, 3, 2, 1, 2, 2, 2, 2, 1, 2],
       [1, 2, 1, 0, -2, -1, 0, 0, -1, 1, 1, 3, 2, 1, 2, 2, 2, 2, 1, 2], [1, 1, 1, 0, -2, -1, -1, 0, -1, 1, 1, 3, 2, 1, 2, 2, 2, 2, 1, 1],
       [1, 2, 1, 0, -1, -1, -1, 0, -1, 0, 1, 4, 2, 1, 2, 2, 2, 2, 2, 1], [1, 2, 1, 0, -1, -1, -1, 0, -1, 0, 1, 4, 2, 1, 2, 2, 2, 2, 2, 1],
       [1, 1, 1, 0, -1, -1, -1, 0, -1, 0, 1, 4, 2, 1, 2, 2, 2, 2, 2, 1], [1, 2, 1, 0, -1, -1, -1, 0, -1, 0, 1, 3, 2, 1, 2, 2, 3, 4, 1, 1],
       [1, 2, 1, 0, -1, -1, -1, 0, 0, 0, 1, 3, 2, 1, 2, 2, 3, 3, 1, 1], [1, 1, 1, 0, -2, -1, -1, 0, -1, 0, 1, 3, 2, 1, 2, 2, 3, 3, 2, 1],
       [1, 1, 1, 0, -2, -1, 0, 0, -1, 0, 1, 3, 2, 1, 2, 2, 3, 3, 2, 1], [1, 1, 1, 0, -1, -1, -1, 0, -1, 0, 1, 3, 2, 1, 2, 2, 2, 3, 2, 1],
       [1, 1, 1, 0, -2, -1, -1, 0, -1, 0, 1, 3, 2, 1, 2, 2, 3, 3, 2, 1], [1, 1, 1, 0, -2, -1, -1, 0, -1, 0, 1, 3, 2, 1, 2, 2, 3, 3, 2, 1],
       [-1, 0, 1, 0, -1, -1, -1, 0, 0, 0, 1, 3, 2, 1, 2, 2, 2, 2, 2, 1], [-1, 0, 1, 0, -1, -1, 0, 0, 0, 0, 1, 4, 2, 1, 2, 2, 2, 2, 2, 1],
       [1, -1, 1, 0, 0, -1, 0, 0, 0, 0, 1, 3, 2, 1, 2, 2, 2, 2, 2, 2], [3, 3, 3, 1, 1, 0, 0, 1, 1, 0, 2, 1, 1, 0, 0, 1, 1, 0, 1, 1],
       [3, 3, 5, 1, 0, 0, 0, 0, 1, 0, 2, 1, 1, 0, 1, 1, 0, 0, 0, 0], [2, 3, 3, 2, 1, 1, 0, 0, 0, 1, 1, 1, 1, 0, 1, 0, 1, 0, 0, 1],
       [2, 2, 3, 1, -2, 0, 0, 1, 1, 1, 2, 3, 1, 0, 1, 1, 0, 1, 1, 0], [1, 2, 3, 1, 0, -1, 0, 1, 1, 1, 5, 3, 1, 1, 1, 1, 1, 0, 1, 1],
       [1, 2, 3, 2, 1, 1, 0, 1, 1, 0, 3, 5, 3, 1, 1, 1, 0, 0, 1, 1]]
X_group = [1, 1, 1, 0, 0, 0, 0, 0, 0, 0, 0, 1, 1, 1, 0, 0, 1, 1, 0, 1]
X_col = [1, [.65, [.35, [.2, L, L], [.25, L, L]], [.45, [.25, L, L], [.35, L, [.2, L, [.1, L, L]]]]], [.7, [.3, L, L], [.5, [.25, [.1, L, L], L], [.35, [.15, L, L], [.2, L, L]]]]]
X_row = [1, [.7, [.45, [.2, [.1, L, L], [.12, L, L]], [.25, [.1, L, L], [.15, L, [.08, L, L]]]], [.5, [.25, [.1, L, L], [.12, L, [.06, L, L]]], [.4, [.2, [.08, L, L], [.1, L, L]], [.3, [.12, L, L], [.2, L, L]]]]], [.45, [.2, L, L], [.3, L, [.15, L, L]]]]

HEAT_SCALE_STOPS = ["#3B74B5", "#8FBEDC", "#D6ECE8", "#EEF6CC", "#FFFCC0", "#FEDD90", "#F9AE64", "#EF6C40", "#D62F27"]
HEAT_SCALE = [[i / 8, c] for i, c in enumerate(HEAT_SCALE_STOPS)]
BAR_LEVELS = [5, 4.5, 4, 3.5, 3, 2.5, 2, 1.5, 1, .5, 0, -.5, -1, -1.5, -2, -2.5, -3]

# ======================= build helpers
fig = go.Figure()
layout = dict(width=W, height=H, margin=dict(l=0, r=0, t=0, b=0, pad=0), paper_bgcolor="white", plot_bgcolor="rgba(0,0,0,0)",
              showlegend=False, barmode="stack", boxmode="overlay", font=dict(family=SANS, size=3, color="#222"),
              xaxis=dict(range=[0, W], domain=[0, 1], visible=False, fixedrange=True),
              yaxis=dict(range=[H, 0], domain=[0, 1], visible=False, fixedrange=True))
shapes, annots = [], []
axn = [1]


def txt(x, y, s, size=3, anchor="left", color="#222", family=SANS, angle=0, bold=False, v="middle"):
    annots.append(dict(x=x, y=y, xref="x", yref="y", text=f"<b>{s}</b>" if bold else s, showarrow=False, xanchor=anchor,
                       yanchor=v, textangle=angle, font=dict(size=size, color=color, family=family), borderpad=0, borderwidth=0))


def rect(x0, y0, x1, y1, fill=None, line=None, lw=0.5, layer="below", dash=None):
    shapes.append(dict(type="rect", xref="x", yref="y", x0=x0, y0=y0, x1=x1, y1=y1, layer=layer,
                       fillcolor=fill or "rgba(0,0,0,0)", line=dict(color=line or "rgba(0,0,0,0)", width=lw if line else 0, dash=dash)))


def seg(x0, y0, x1, y1, color="#888", lw=0.5):
    shapes.append(dict(type="line", xref="x", yref="y", x0=x0, y0=y0, x1=x1, y1=y1, layer="above", line=dict(color=color, width=lw)))


def axes(x0, y0, x1, y1, xa=None, ya=None):
    axn[0] += 1
    n = axn[0]
    xd = dict(domain=[x0 / W, x1 / W], anchor=f"y{n}", fixedrange=True, zeroline=False, showgrid=False)
    yd = dict(domain=[1 - y1 / H, 1 - y0 / H], anchor=f"x{n}", fixedrange=True, zeroline=False, showgrid=False)
    xd.update(xa or {})
    yd.update(ya or {})
    layout[f"xaxis{n}"] = xd
    layout[f"yaxis{n}"] = yd
    return f"x{n}", f"y{n}"


def dendro_pts(t):
    xs, ys = [], []
    cnt = [0]

    def walk(node):
        if not isinstance(node, list):
            cnt[0] += 1
            return cnt[0] - .5, 0.0
        a, ha = walk(node[1])
        b, hb = walk(node[2])
        xs.extend([a, a, b, b, None])
        ys.extend([ha, node[0], node[0], hb, None])
        return (a + b) / 2, node[0]
    walk(t)
    return xs, ys, cnt[0]


def dendro_top(t, x0, x1, y0, y1):
    xs, ys, n = dendro_pts(t)
    fig.add_trace(go.Scatter(x=[None if v is None else x0 + v / n * (x1 - x0) for v in xs],
                             y=[None if v is None else y1 - v * (y1 - y0) for v in ys], mode="lines",
                             line=dict(color="#AAAAAA", width=0.5), hoverinfo="skip"))


def dendro_left(t, x0, x1, y0, y1):
    xs, ys, n = dendro_pts(t)
    fig.add_trace(go.Scatter(y=[None if v is None else y0 + v / n * (y1 - y0) for v in xs],
                             x=[None if v is None else x1 - v * (x1 - x0) for v in ys], mode="lines",
                             line=dict(color="#AAAAAA", width=0.5), hoverinfo="skip"))


def heat_panel(z, rows, group, col_t, row_t, rect_px, dtop, dleft, cbar, fs=2.8):
    x0, y0, x1, y1 = rect_px
    nc = len(z[0])
    cols = [f"S{i + 1}" for i in range(nc)]
    rect(x0, y0, x1, y1, fill="#DAD9C8")
    xa, ya = axes(x0, y0, x1, y1,
                  dict(type="category", tickmode="array", tickvals=cols, ticktext=cols, tickangle=90, tickfont=dict(size=2.2, color="#444"), ticks="", showline=False),
                  dict(type="category", tickmode="array", tickvals=rows, ticktext=rows, side="right", autorange="reversed", tickfont=dict(size=fs, color="#222"), ticks="", showline=False))
    fig.add_trace(go.Heatmap(z=z, x=cols, y=rows, xaxis=xa, yaxis=ya, colorscale=HEAT_SCALE, zmin=-3, zmax=5, showscale=False,
                             xgap=0.3, ygap=0.3, hoverinfo="skip"))
    dx = (x1 - x0) / nc
    fig.add_trace(go.Heatmap(z=[group], x0=x0 + dx / 2, dx=dx, y0=y0 - 1.3, dy=2.4, colorscale=[[0, "#22CBD8"], [1, "#F58A8A"]],
                             zmin=0, zmax=1, showscale=False, hoverinfo="skip"))
    txt(x1 + 1.5, y0 - 1.3, "Group", 1.8)
    dendro_top(col_t, x0, x1, dtop, y0 - 2.6)
    dendro_left(row_t, dleft, x0, y0, y1)
    cx0, cy0, cx1, cy1 = cbar
    cb = [[v] for v in BAR_LEVELS]
    dy = (cy1 - cy0) / len(cb)
    fig.add_trace(go.Heatmap(z=cb, x0=(cx0 + cx1) / 2, dx=cx1 - cx0, y0=cy0 + dy / 2, dy=dy, colorscale=HEAT_SCALE, zmin=-3, zmax=5,
                             showscale=False, zsmooth="best", hoverinfo="skip"))
    for frac, lab in zip([.2, .4, .58, .75, .93], ["4", "2", "0", "-2", "-4"]):
        txt(cx1 + 1, cy0 + frac * (cy1 - cy0), lab, 1.8)
    rect(cx1 + 1, cy0 + .3, cx1 + 3.3, cy0 + 1.6, fill="#22CBD8")
    rect(cx1 + 1, cy0 + 1.6, cx1 + 3.3, cy0 + 2.9, fill="#F58A8A")


def stacked(series, colors, cats, rect_px, names, fs=3, angle=None, bw=0.75, tick=3.1):
    x0, y0, x1, y1 = rect_px
    xa, ya = axes(x0, y0, x1, y1,
                  dict(type="category", tickmode="array", tickvals=cats, ticktext=cats, tickangle=angle if angle is not None else 0,
                       tickfont=dict(size=fs, family=SERIF, color="#222"), ticks="outside", ticklen=0.8, tickwidth=0.3, tickcolor="#555", showline=True, linecolor="#777", linewidth=0.4),
                  dict(range=[0, 100], tickvals=[0, 20, 40, 60, 80, 100], ticksuffix="%", tickfont=dict(size=tick, family=SERIF, color="#222"),
                       ticks="outside", ticklen=1.2, tickwidth=0.4, tickcolor="#333", showline=True, linecolor="#333", linewidth=0.7))
    totals = np.sum(np.array(series, dtype=float), axis=0)
    for s, c, nm in zip(series, colors, names):
        fig.add_trace(go.Bar(x=cats, y=np.array(s, dtype=float) / totals * 100, marker=dict(color=c, line=dict(width=0)), width=bw, name=nm, xaxis=xa, yaxis=ya, hoverinfo="skip"))
    return xa, ya


def box_panel(q1, med, q3, lo, hi, pos, colors, rect_px, xr, ticks, tickvals, yr, ytv, ytt, out_x, out_y, wd, dashed=False):
    x0, y0, x1, y1 = rect_px
    xa, ya = axes(x0, y0, x1, y1,
                  dict(range=xr, tickmode="array", tickvals=tickvals, ticktext=ticks, tickfont=dict(size=3.6, color="#333"), ticks="inside", ticklen=0.8, tickwidth=0.3, tickcolor="#777", showline=True, mirror=True, linecolor="#999999", linewidth=0.8),
                  dict(range=yr, tickmode="array", tickvals=ytv, ticktext=ytt, tickfont=dict(size=2.6, color="#333"), ticks="inside", ticklen=0.8, tickwidth=0.3, tickcolor="#777", showline=True, mirror=True, linecolor="#999999", linewidth=0.8))
    for i, p in enumerate(pos):
        if dashed:
            fig.add_trace(go.Scatter(x=[p, p, None, p, p], y=[q3[i], hi[i], None, q1[i], lo[i]], mode="lines",
                                     line=dict(color="#333333", width=0.45, dash="1px,1px"), xaxis=xa, yaxis=ya, hoverinfo="skip"))
            fig.add_trace(go.Box(x=[p], q1=[q1[i]], median=[med[i]], q3=[q3[i]], lowerfence=[q1[i]], upperfence=[q3[i]], width=wd, whiskerwidth=0,
                                 fillcolor=colors[i], line=dict(color="#2A2A2A", width=0.4), xaxis=xa, yaxis=ya, hoverinfo="skip", boxpoints=False))
        else:
            fig.add_trace(go.Box(x=[p], q1=[q1[i]], median=[med[i]], q3=[q3[i]], lowerfence=[lo[i]], upperfence=[hi[i]], width=wd, whiskerwidth=0.4,
                                 fillcolor=colors[i], line=dict(color="#2A2A2A", width=0.4), xaxis=xa, yaxis=ya, hoverinfo="skip", boxpoints=False))
    fig.add_trace(go.Scatter(x=out_x, y=out_y, mode="markers", marker=dict(symbol="cross", size=1.6, color="#6A6AF0"), xaxis=xa, yaxis=ya, hoverinfo="skip"))


# ======================= canvas placeholder (first axes so everything is above it)
fig.add_trace(go.Scatter(x=[0], y=[0], mode="markers", marker=dict(size=1, color="rgba(0,0,0,0)"), hoverinfo="skip"))

# frames
TAN = "#D8C6A2"
for y0, y1 in [(2.5, 320.5), (329.5, 802), (812.5, 1248)]:
    rect(38.5, y0, 647, y1, line=TAN, lw=2.2, dash="7px,6px", layer="above")
for y0, y1 in [(339, 487.5), (491, 643), (645, 793)]:
    rect(106, y0, 618, y1, fill="white", line="#8A8A8A", lw=1.5)

# big letters
for s, x, y in [("A", 51, 17), ("B", 270, 17), ("C", 466, 17), ("D", 58, 171), ("E", 277, 172), ("F", 482, 178),
                ("G", 47, 345), ("H", 449, 352), ("I", 45, 486), ("J", 454, 503), ("K", 49, 650), ("L", 454, 655),
                ("M", 54, 827), ("N", 206, 827), ("O", 365, 829), ("P", 512, 835), ("Q", 56, 977), ("R", 217, 977),
                ("S", 367, 977), ("T", 515, 977), ("U", 67, 1112), ("V", 223, 1112), ("W", 363, 1112), ("X", 513, 1112)]:
    txt(x, y, s, 22, "center", "#000", SANS, bold=True)
for s, x, y in [("I", 15, 162), ("II", 17, 565), ("III", 18, 1030)]:
    txt(x, y, s, 33, "center", "#111", SERIF)
for s, y in [("level1", 401), ("level2", 557), ("level3", 708)]:
    txt(80, y, s, 15, "center", "#111", SERIF)

# ---------- A
GREY = "#EBEBEB"
for xx0, xx1 in [(92, 129), (133, 172)]:
    rect(xx0, 21, xx1, 89, fill=GREY)
    rect(xx0, 112, xx1, 123, fill=GREY)
for s, x, y in [("Metabolism", 120, 57), ("Genetic Information Processing", 111, 103),
                ("Environmental Information Processing", 108, 120), ("Cellular Processes", 118, 137)]:
    txt(x, y, s, 2.2, "center")
for y0, y1 in [(22, 89), (92, 109), (126, 144)]:
    seg(129.5, y0, 129.5, y1, "#BBBBBB", 0.4)
txt(110, 150, "KEGG pathway", 2, "center", "#999")
txt(152, 150, "KEGG pathway", 2, "center", "#999")
xa, ya = axes(174, 18, 244, 148,
              dict(range=[0, 50], tickvals=[0, 10, 20, 30, 40, 50], tickfont=dict(size=2, color="#777"), showline=True, mirror=True, linecolor="#AAAAAA", linewidth=0.8),
              dict(type="category", autorange="reversed", tickmode="array", tickvals=A_labels, ticktext=A_labels, tickfont=dict(size=1.9, color="#333"), showline=True, mirror=True, linecolor="#AAAAAA", linewidth=0.8))
fig.add_trace(go.Bar(x=A_values, y=A_labels, orientation="h", width=0.5, marker=dict(color=A_colors, line=dict(width=0)), xaxis=xa, yaxis=ya, hoverinfo="skip"))

# ---------- B
for xx0, xx1 in [(291, 325), (332, 370)]:
    for y0, y1 in [(60, 95), (185, 198), (210, 300), (312, 336), (362, 400), (412, 438)]:
        rect(xx0, y0 / 3, xx1, y1 / 3, fill=GREY)
for y0, y1 in [(60, 95), (95, 185), (185, 198), (198, 210), (210, 300), (300, 312), (312, 336), (336, 362), (362, 400), (400, 412), (412, 438)]:
    rect(326, y0 / 3 + .3, 329, y1 / 3 - .3, line="#C8C8C8", lw=0.3)
for s, y in [("Cancer: overview", 77), ("Cardiovascular diseases", 140), ("Cellular community - prokaryotes", 190), ("Energy metabolism", 203),
             ("Global and overview maps", 255), ("Glycan biosynthesis and metabolism", 305), ("Membrane transport", 330),
             ("Nucleotide metabolism", 355), ("Replication and repair", 380), ("Signal transduction", 405), ("Translation", 428)]:
    txt(308, y / 3, s, 2, "center")
txt(308, 150, "KEGG pathway", 2, "center", "#999")
txt(350, 150, "KEGG pathway", 2, "center", "#999")
xa, ya = axes(372.7, 17, 443, 148,
              dict(range=[0, 50], tickvals=[0, 10, 20, 30, 40, 50], tickfont=dict(size=2, color="#777"), showline=True, mirror=True, linecolor="#AAAAAA", linewidth=0.8),
              dict(type="category", autorange="reversed", tickmode="array", tickvals=B_labels, ticktext=B_labels, tickfont=dict(size=1.6, color="#333"), showline=True, mirror=True, linecolor="#AAAAAA", linewidth=0.8))
fig.add_trace(go.Bar(x=B_values, y=B_labels, orientation="h", width=0.55, marker=dict(color=B_colors, line=dict(width=0)), xaxis=xa, yaxis=ya, hoverinfo="skip"))

# ---------- C
xa, ya = axes(497.8, 20.7, 623.8, 87.3,
              dict(type="category", tickmode="array", tickvals=C_terms, ticktext=C_terms, tickangle=-72, tickfont=dict(size=2.5, color="#333"), ticks="outside", ticklen=1, tickwidth=0.3, showline=True, linecolor="#333", linewidth=0.7),
              dict(range=[0, 120000], tickvals=[0, 20000, 60000, 100000], ticktext=["0", "20000", "60000", "100000"], tickangle=-90, tickfont=dict(size=2.6, color="#333"), ticks="outside", ticklen=1, tickwidth=0.3, showline=True, linecolor="#333", linewidth=0.7))
fig.add_trace(go.Bar(x=C_terms, y=C_values, width=0.72, marker=dict(color=C_colors, line=dict(width=0)), xaxis=xa, yaxis=ya, hoverinfo="skip"))
txt(480, 52, "Number of genes", 3.6, "center", angle=-90)
for a, b, c, d in [((475, 438), (603, 438), (650, 272), (521, 272)), ((610, 438), (700, 438), (750, 272), (655, 272)), ((708, 438), (838, 438), (890, 272), (752, 272))]:
    pts = [a, b, c, d]
    path = "M " + " L ".join(f"{325 + p[0] / 3:.1f},{p[1] / 3:.1f}" for p in pts) + " Z"
    shapes.append(dict(type="path", xref="x", yref="y", path=path, line=dict(color="#333", width=0.5), layer="above"))
for s, x in [("Cellular component", 538), ("Molecular function", 650), ("Biological process", 777)]:
    txt(325 + x / 3, 148.5, s, 3.3, "center")

# ---------- D
box_panel(D_q1, D_med, D_q3, D_lo, D_hi, list(range(1, 21)), D_colors, (101, 186.7, 243, 296), [0, 20.6], D_ticks, list(range(20)),
          [0, .25], [0, .05, .1, .15, .2, .25], ["0.00", "0.05", "0.10", "0.15", "0.20", "0.25"], D_out_x, D_out_y, 0.55)
txt(90.5, 241, "Abundance", 2.8, "center", angle=-90)
for i, s in enumerate(D_legend):
    y = 189 + i * 3.58
    rect(168.3, y - 1, 173.7, y + 1, fill=D_colors[i])
    txt(175, y, s, 2.1)

# ---------- E
box_panel(E_q1, E_med, E_q3, E_lo, E_hi, list(range(1, 20)), D_colors[:19], (304, 187.3, 442, 295), [0, 20.5], E_ticks, list(range(20)),
          [0, .0004], [i * .00005 for i in range(9)], [f"{i * .00005:.5f}" for i in range(9)], E_out_x, E_out_y, 0.65, dashed=True)
txt(287, 241, "Abundance", 2.8, "center", angle=-90)
for i, s in enumerate(E_legend):
    y = 189.5 + i * 3.58
    rect(401, y - 1, 406.3, y + 1, fill=D_colors[i])
    txt(407.5, y, s, 2.1)

# ---------- F
px = 547.7
py = 235
r = 36
fig.add_trace(go.Pie(values=F_values, labels=F_labels, marker=dict(colors=F_colors, line=dict(width=0)), sort=False, direction="clockwise", rotation=90,
                     textinfo="none", hoverinfo="skip", domain=dict(x=[(px - r) / W, (px + r) / W], y=[1 - (py + r) / H, 1 - (py - r) / H])))
txt(547.5, 187, "Carbohydrate-Active enZYmes", 4.2, "center", "#111", bold=True)
for i, (x, y) in enumerate([(593, 250.5), (581, 265), (567, 273), (535, 274), (506, 254), (562, 196)]):
    txt(x, y, F_labels[i], 2.3, "center")
rect(520, 277, 566, 299, fill="white", line="#777", lw=0.4)
for i, s in enumerate(F_legend):
    y = 280 + i * 3.33
    rect(523, y - 1, 525.2, y + 1, fill=F_colors[::-1][i])
    txt(527, y, s, 2.5)

# ---------- G / H
L1 = [L1_metab, L1_genet, L1_envir, L1_cellu]
stacked(L1, L1_colors, SAMPLES, (130, 359, 439, 468.3), L1_names, fs=2.7, angle=-60)
stacked(H_series, L1_colors, GROUPS, (473, 361, 539, 471), L1_names, fs=3.2, bw=0.7, tick=2.9)
for s, x0 in [("Relative abundance (%)", 116), ("Relative abundance (%)", 455)]:
    txt(x0, 414, s, 3.2, "center", family=SERIF, angle=-90)
txt(284, 482, "Sample", 3.2, "center", family=SERIF)
txt(505, 480, "Sample", 3.2, "center", family=SERIF)
for i, (s, c) in enumerate(zip(L1_names[::-1], L1_colors[::-1])):
    y = [364.3, 371.7, 379.3, 386.7][i]
    rect(540.3, y - 1, 542.5, y + 1, fill=c)
    txt(544, y, s, 3.5, family=SERIF)

# ---------- I / J
L2 = [L2_s0, L2_s1, L2_s2, L2_s3, L2_s4, L2_s5, L2_s6, L2_s7, L2_s8, L2_s9, L2_s10]
stacked(L2, PAIRED, SAMPLES, (130, 512.7, 439, 622.3), L2_names, fs=2.7, angle=-60)
stacked(J_series, PAIRED, GROUPS, (476, 515.7, 541, 625.3), L2_names, fs=3.2, bw=0.7, tick=2.9)
for x0 in [115, 456]:
    txt(x0, 568, "Relative abundance (%)", 3.2, "center", family=SERIF, angle=-90)
txt(284, 636, "Sample", 3.2, "center", family=SERIF)
txt(505, 634, "Sample", 3.2, "center", family=SERIF)
for i, (s, c) in enumerate(zip(L2_names[::-1], PAIRED[::-1])):
    y = 490 + [84, 116, 148, 179, 210, 242, 273, 304, 336, 367, 398][i] / 3
    rect(541.5, y - 1, 543.7, y + 1, fill=c)
    txt(545.3, y, s, 3.5, family=SERIF)

# ---------- K / L
L3 = [L3_s0, L3_s1, L3_s2, L3_s3, L3_s4, L3_s5, L3_s6, L3_s7, L3_s8, L3_s9, L3_s10]
stacked(L3, PAIRED, SAMPLES, (130, 665, 439, 774.3), L3_names, fs=2.7, angle=-60)
stacked(Lp_series, PAIRED, GROUPS, (477, 668.3, 541, 777.7), L3_names, fs=3.2, bw=0.7, tick=2.9)
for x0 in [115, 456]:
    txt(x0, 720, "Relative abundance (%)", 3.2, "center", family=SERIF, angle=-90)
txt(284, 788, "Sample", 3.2, "center", family=SERIF)
txt(505, 787, "Sample", 3.2, "center", family=SERIF)
for i, (s, c) in enumerate(zip(L3_names[::-1], PAIRED[::-1])):
    y = 640 + [92, 124, 155, 187, 218, 249, 281, 312, 343, 375, 406][i] / 3
    rect(541.5, y - 1, 543.7, y + 1, fill=c)
    txt(545.3, y, s, 3.5, family=SERIF)

# ---------- heatmaps
heat_panel(M_z, M_rows, M_group, M_col, M_row, (85.7, 844.7, 135, 942), 829, 72.7, (179, 842, 181, 878), fs=1.8)
heat_panel(N_z, N_rows, N_group, N_col, N_row, (234, 843, 286, 941), 828, 222, (327, 841, 330, 876), fs=1.9)
heat_panel(O_z, O_rows, O_group, O_col, O_row, (381, 843, 432, 941), 828, 368, (474, 841, 476, 876), fs=2.6)
heat_panel(P_z, P_rows, P_group, P_col, P_row, (527, 844, 591, 942), 828, 514, (620, 841, 623, 877), fs=1.7)
heat_panel(Q_z, Q_rows, Q_group, Q_col, Q_row, (90, 985, 126, 1083), 969, 77, (183, 982, 186, 1018), fs=2.4)
heat_panel(R_z, R_rows, R_group, R_col, R_row, (237, 984, 282, 1083), 968, 223, (330, 981, 332, 1017), fs=2)
heat_panel(S_z, S_rows, S_group, S_col, S_row, (384, 984, 436, 1082), 968, 371, (477, 981, 479, 1017), fs=2.6)
heat_panel(T_z, T_rows, T_group, T_col, T_row, (531, 984, 584, 1086), 968, 518, (625, 981, 627, 1017), fs=1.9)
heat_panel(U_z, U_rows, U_group, U_col, U_row, (90, 1129, 141.7, 1227), 1114, 77, (183, 1127, 186, 1162), fs=2.6)
heat_panel(V_z, V_rows, V_group, V_col, V_row, (235, 1129, 289, 1228), 1114, 223, (328, 1127, 330, 1163), fs=2)
heat_panel(W_z, W_rows, W_group, W_col, W_row, (383, 1131, 427, 1229), 1116, 370, (476, 1129, 479, 1164), fs=2.2)
heat_panel(X_z, X_rows, X_group, X_col, X_row, (533, 1132, 588, 1229), 1113, 520, (626, 1129, 629, 1164), fs=1.6)

layout["shapes"] = shapes
layout["annotations"] = annots
fig.update_layout(**layout)
fig.write_html("out.html", config=dict(displayModeBar=False, staticPlot=True), post_script="document.body.style.margin='0';")
